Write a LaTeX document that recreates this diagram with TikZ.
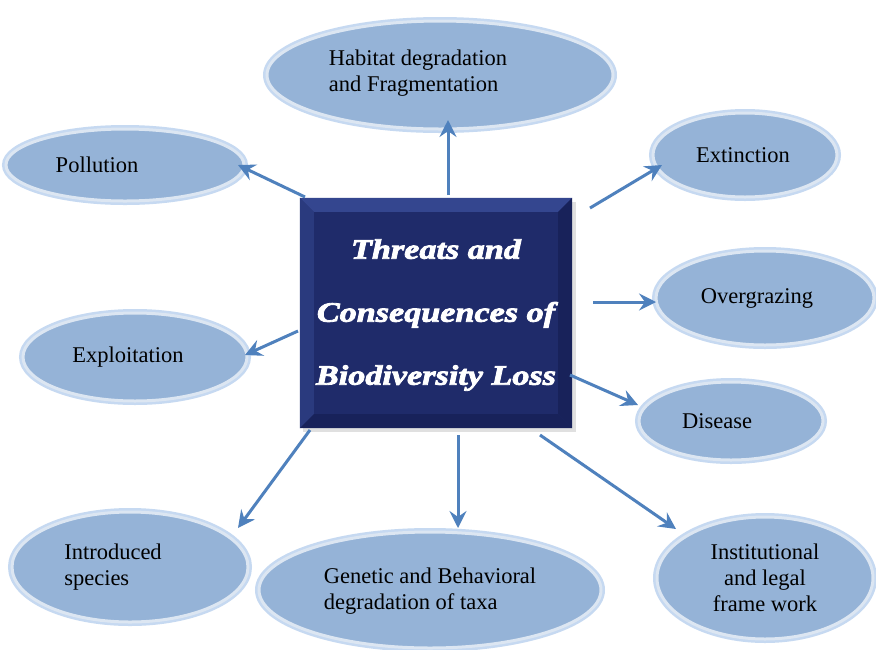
\documentclass[tikz,border=0pt]{standalone}
\usepackage{fontspec}
\setmainfont{Liberation Serif}
\newfontfamily\titlefont[BoldItalicFeatures={FakeBold=3,FakeStretch=1.22}]{Liberation Serif}
\usetikzlibrary{shapes.geometric,arrows.meta}
\definecolor{ellfill}{HTML}{95B3D7}
\definecolor{ellrim}{HTML}{DCE6F2}
\definecolor{ellglow}{HTML}{C6D9F1}
\definecolor{boxblue}{HTML}{1F2B6A}
\definecolor{bevlight}{HTML}{34468F}
\definecolor{bevmid}{HTML}{2A3A7E}
\definecolor{bevdark}{HTML}{18225A}
\definecolor{arrowblue}{HTML}{4F81BD}
\tikzset{
  bubble/.style={ellipse, fill=ellfill, draw=ellrim, line width=3pt,
    preaction={draw=ellglow, line width=8pt}, inner sep=0pt},
  btext/.style={font=\fontsize{22.5}{26}\selectfont, align=left, text=black},
  link/.style={draw=arrowblue, line width=3pt,
    -{Stealth[length=17pt,width=17pt,inset=6pt]}},
}
\begin{document}
\begin{tikzpicture}[x=1pt,y=-1pt]
\useasboundingbox[fill=white] (0,0) rectangle (876,649);

% ellipses
\node[bubble, minimum width=346pt, minimum height=108pt,
  label={[btext, xshift=-22pt, yshift=2pt]center:Habitat degradation\\and Fragmentation}] (hab) at (440,75) {};
\node[bubble, minimum width=238pt, minimum height=72pt,
  label={[btext, xshift=-28pt]center:Pollution}] (pol) at (125,165) {};
\node[bubble, minimum width=184pt, minimum height=84pt,
  label={[btext, xshift=-2pt]center:Extinction}] (ext) at (745,155) {};
\node[bubble, minimum width=224pt, minimum height=88pt,
  label={[btext, xshift=-7pt]center:Exploitation}] (exp) at (135,357) {};
\node[bubble, minimum width=218pt, minimum height=94pt,
  label={[btext, xshift=-8pt]center:Overgrazing}] (ovg) at (765,298) {};
\node[bubble, minimum width=184pt, minimum height=78pt,
  label={[btext, xshift=-14pt]center:Disease}] (dis) at (731,421) {};
\node[bubble, minimum width=236pt, minimum height=110pt,
  label={[btext, xshift=-17pt]center:Introduced\\species}] (int) at (130,567) {};
\node[bubble, minimum width=342pt, minimum height=116pt,
  label={[btext, xshift=0pt, yshift=-1pt]center:Genetic and Behavioral\\degradation of taxa}] (gen) at (430,590) {};
\node[bubble, minimum width=216pt, minimum height=122pt,
  label={[btext, align=center]center:Institutional\\and legal\\frame work}] (ins) at (765,578) {};

% central box
\fill[black, opacity=0.12] (303,202) rectangle (576,432);
\node[rectangle, fill=boxblue, minimum width=272pt, minimum height=230pt, inner sep=0pt] (core) at (436,313) {};
\fill[bevlight] (core.north west) -- (core.north east) -- ([xshift=-14pt,yshift=-14pt]core.north east) -- ([xshift=14pt,yshift=-14pt]core.north west) -- cycle;
\fill[bevmid] (core.north west) -- (core.south west) -- ([xshift=14pt,yshift=14pt]core.south west) -- ([xshift=14pt,yshift=-14pt]core.north west) -- cycle;
\fill[bevdark] (core.north east) -- (core.south east) -- ([xshift=-14pt,yshift=14pt]core.south east) -- ([xshift=-14pt,yshift=-14pt]core.north east) -- cycle;
\fill[bevdark] (core.south west) -- (core.south east) -- ([xshift=-14pt,yshift=14pt]core.south east) -- ([xshift=14pt,yshift=14pt]core.south west) -- cycle;
\node[text=white, align=center, font=\titlefont\bfseries\itshape\fontsize{28}{63}\selectfont] (title) at (436,315) {Threats and\\Consequences of\\Biodiversity Loss};

% connector end points
\coordinate (sHab) at (448,195); \coordinate (eHab) at (448,120);
\coordinate (sPol) at (305,197); \coordinate (ePol) at (238,165);
\coordinate (sExt) at (590,208); \coordinate (eExt) at (662,165);
\coordinate (sExp) at (298,331); \coordinate (eExp) at (245,355);
\coordinate (sOvg) at (593,302); \coordinate (eOvg) at (656,302);
\coordinate (sDis) at (570,375); \coordinate (eDis) at (638,405);
\coordinate (sInt) at (310,430); \coordinate (eInt) at (238,528);
\coordinate (sGen) at (458,435); \coordinate (eGen) at (458,528);
\coordinate (sIns) at (540,435); \coordinate (eIns) at (676,529);

\draw[link] (sHab) -- (eHab);
\draw[link] (sPol) -- (ePol);
\draw[link] (sExt) -- (eExt);
\draw[link] (sExp) -- (eExp);
\draw[link] (sOvg) -- (eOvg);
\draw[link] (sDis) -- (eDis);
\draw[link] (sInt) -- (eInt);
\draw[link] (sGen) -- (eGen);
\draw[link] (sIns) -- (eIns);
\end{tikzpicture}
\end{document}
